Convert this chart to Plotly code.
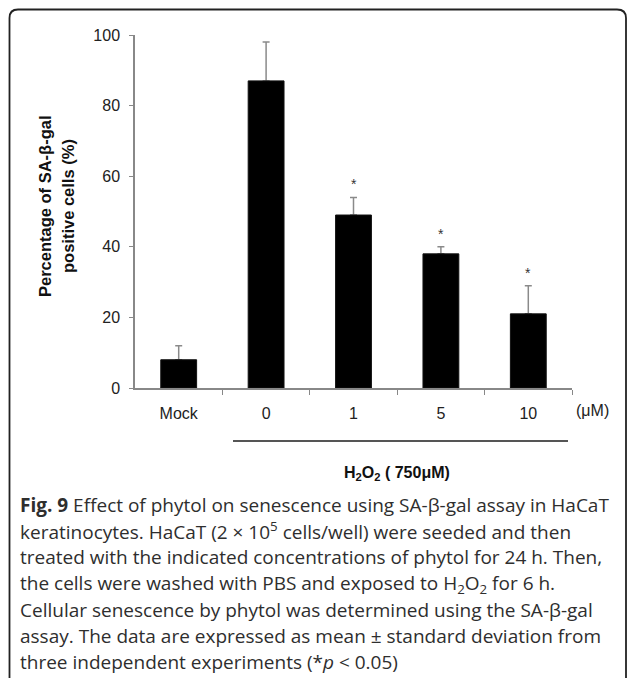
import plotly.graph_objects as go

# ---- data ----
categories = ["Mock", "0", "1", "5", "10"]
values = [8, 87, 49, 38, 21]
errors = [4, 11, 5, 2, 8]
significant = [False, False, True, True, True]
y_ticks = [0, 20, 40, 60, 80, 100]
y_title_lines = ["Percentage of SA-β-gal", "positive cells (%)"]
unit_label = "(μM)"
group_label = "H<sub>2</sub>O<sub>2</sub> ( 750μM)"
caption_lines = [
    "<b>Fig. 9</b> Effect of phytol on senescence using SA-β-gal assay in HaCaT",
    "keratinocytes. HaCaT (2 × 10<sup>5</sup> cells/well) were seeded and then",
    "treated with the indicated concentrations of phytol for 24 h. Then,",
    "the cells were washed with PBS and exposed to H<sub>2</sub>O<sub>2</sub> for 6 h.",
    "Cellular senescence by phytol was determined using the SA-β-gal",
    "assay. The data are expressed as mean ± standard deviation from",
    "three independent experiments (*<i>p</i> &lt; 0.05)",
]

W, H = 627, 678
L, R, T, B = 135, 55, 35, 290
PW, PH = W - L - R, H - T - B


def px(x):
    return (x - L) / PW


def py(y):
    return (H - B - y) / PH


AX_FONT = "Liberation Sans, Arial, sans-serif"
CAP_FONT = "Open Sans, Noto Sans, sans-serif"

idx = list(range(len(categories)))

fig = go.Figure()
# error bars (drawn under the bars so the lower cap is hidden)
fig.add_trace(go.Bar(
    x=idx, y=values, width=0.41,
    marker=dict(color="rgba(0,0,0,0)", line=dict(width=0)),
    error_y=dict(type="data", array=errors, arrayminus=[0] * len(errors),
                 symmetric=False, color="#8a8a8a", thickness=1.5, width=3.5),
    hoverinfo="skip", showlegend=False,
))
fig.add_trace(go.Bar(
    x=idx, y=values, width=0.41,
    marker=dict(color="#000000", line=dict(color="#111111", width=1)),
    showlegend=False,
))

annotations = []
for i, v, e, s in zip(idx, values, errors, significant):
    if s:
        annotations.append(dict(x=i, y=v + e, xref="x", yref="y", text="*",
                                showarrow=False, yanchor="bottom", yshift=3,
                                font=dict(family=AX_FONT, size=14, color="#333")))

for i, line in enumerate(y_title_lines):
    annotations.append(dict(x=px(45 + 23 * i), y=py(206), xref="paper", yref="paper",
                            text="<b>" + line + "</b>", textangle=-90, showarrow=False,
                            xanchor="center", yanchor="middle",
                            font=dict(family=AX_FONT, size=16.5, color="#111")))

annotations.append(dict(x=px(592), y=py(410), xref="paper", yref="paper",
                        text=unit_label, showarrow=False, xanchor="center", yanchor="middle",
                        font=dict(family=AX_FONT, size=16, color="#222")))
annotations.append(dict(x=px(397), y=py(473), xref="paper", yref="paper",
                        text="<b>" + group_label + "</b>", showarrow=False,
                        xanchor="center", yanchor="middle",
                        font=dict(family=AX_FONT, size=16, color="#111")))

for i, line in enumerate(caption_lines):
    annotations.append(dict(x=px(18), y=py(505 + 26.2 * i), xref="paper", yref="paper",
                            text=line, showarrow=False, xanchor="left", yanchor="middle",
                            align="left",
                            font=dict(family=CAP_FONT, size=19, color="#2e2e2e")))

shapes = [
    dict(type="line", xref="paper", yref="paper", x0=px(233), x1=px(568),
         y0=py(441), y1=py(441), line=dict(color="#555", width=2)),
    dict(type="path", xref="paper", yref="paper",
         path=(f"M {px(9.5)},{py(700)} L {px(9.5)},{py(18)} "
               f"Q {px(9.5)},{py(9.5)} {px(18)},{py(9.5)} "
               f"L {px(617)},{py(9.5)} Q {px(626)},{py(9.5)} {px(626)},{py(18)} "
               f"L {px(626)},{py(700)}"),
         line=dict(color="#222", width=1.8)),
]

fig.update_layout(
    width=W, height=H, autosize=False,
    margin=dict(l=L, r=R, t=T, b=B, pad=0),
    paper_bgcolor="white", plot_bgcolor="white",
    barmode="overlay",
    annotations=annotations, shapes=shapes,
    xaxis=dict(range=[-0.5, 4.5], tickmode="array", tickvals=idx, ticktext=categories,
               ticks="", showline=True, linecolor="#888", linewidth=1.5,
               showgrid=False, zeroline=False, ticklabelstandoff=10,
               minor=dict(tickmode="array", tickvals=[i + 0.5 for i in idx],
                          ticks="outside", ticklen=5, tickwidth=1.2, tickcolor="#888",
                          showgrid=False),
               tickfont=dict(family=AX_FONT, size=16, color="#222")),
    yaxis=dict(range=[0, 100], tickvals=y_ticks, ticks="outside", ticklen=4,
               tickwidth=1.2, tickcolor="#888", showline=True, linecolor="#888",
               linewidth=1.5, showgrid=False, zeroline=False, ticklabelstandoff=6,
               tickfont=dict(family=AX_FONT, size=16, color="#222")),
)

fig.write_html("out.html")
